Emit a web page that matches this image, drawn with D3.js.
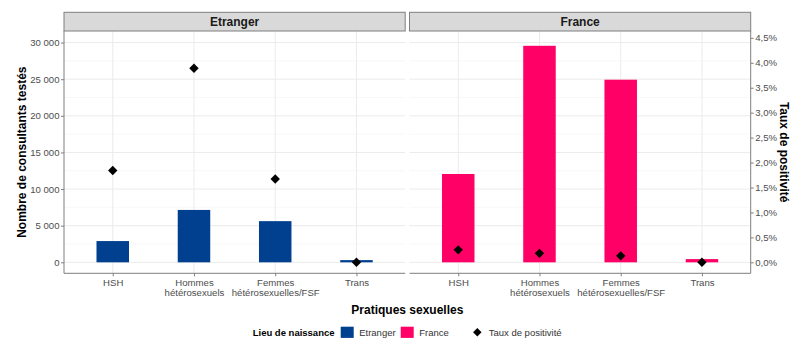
<!DOCTYPE html>
<html><head><meta charset="utf-8">
<script src="https://cdn.jsdelivr.net/npm/d3@7/dist/d3.min.js"></script>
<style>body{margin:0;background:#fff}svg{display:block;font-family:"Liberation Sans",Arial,sans-serif}</style>
</head><body><svg id="c" width="802" height="342"></svg>
<script>
const categories = ["HSH", "Hommes\nhétérosexuels", "Femmes\nhétérosexuelles/FSF", "Trans"];
const panels = ["Etranger", "France"];
const countsEtranger = [2900, 7150, 5620, 300];
const countsFrance = [12060, 29560, 24930, 440];
const rateEtranger = [1.84, 3.89, 1.67, 0.0];
const rateFrance = [0.25, 0.18, 0.13, 0.0];
const countTicks = [0, 5000, 10000, 15000, 20000, 25000, 30000];
const rateTicks = [0, 0.5, 1, 1.5, 2, 2.5, 3, 3.5, 4, 4.5];
const countLimits = [-1500, 31580];
const rateFactor = 6810; // count units per 1 %
const colors = {Etranger: "#013f8f", France: "#ff0066"};

(function () {
const svg = d3.select("#c");
const pTop = 31, pBottom = 273.3, pLeft = 64, pRight = 750.7, gap = 4.3;
const pw = (pRight - pLeft - gap) / 2;

const y = d3.scaleLinear().domain(countLimits).range([pBottom, pTop]);
const yRate = d3.scaleLinear().domain(countLimits.map(v => v / rateFactor)).range([pBottom, pTop]);
const fmtCount = v => d3.format(",")(v).replace(/,/g, " ");
const fmtRate = v => d3.format(".1f")(v).replace(".", ",") + "%";

const data = {Etranger: {c: countsEtranger, r: rateEtranger}, France: {c: countsFrance, r: rateFrance}};
const gridMinor = d3.range(countTicks[0] - 2500, countTicks[countTicks.length - 1] + 5000, 2500)
  .filter(v => v % 5000 !== 0 && v > countLimits[0] && v < countLimits[1]);

panels.forEach((p, i) => {
  const x0 = pLeft + i * (pw + gap);
  const x = d3.scalePoint().domain(categories).range([x0, x0 + pw]).padding(0.6);
  const bw = x.step() * 0.4;
  const g = svg.append("g");
  g.selectAll(".gm").data(gridMinor).join("line")
    .attr("x1", x0).attr("x2", x0 + pw).attr("y1", d => y(d)).attr("y2", d => y(d))
    .attr("stroke", "#f3f3f3").attr("stroke-width", 0.6);
  g.selectAll(".gM").data(countTicks).join("line")
    .attr("x1", x0).attr("x2", x0 + pw).attr("y1", d => y(d)).attr("y2", d => y(d))
    .attr("stroke", "#ebebeb").attr("stroke-width", 1);
  g.selectAll(".gv").data(categories).join("line")
    .attr("x1", d => x(d)).attr("x2", d => x(d)).attr("y1", pTop).attr("y2", pBottom)
    .attr("stroke", "#ebebeb").attr("stroke-width", 1);
  g.append("rect").attr("x", x0).attr("y", 12.3).attr("width", pw).attr("height", pTop - 12.3)
    .attr("fill", "#d9d9d9").attr("stroke", "#7f7f7f").attr("stroke-width", 1);
  g.append("text").attr("x", x0 + pw / 2).attr("y", (12.3 + pTop) / 2).attr("dy", "0.35em")
    .attr("text-anchor", "middle").attr("font-weight", "bold").attr("font-size", 12).attr("fill", "#1a1a1a").text(p);
  g.selectAll(".bar").data(categories).join("rect")
    .attr("x", d => x(d) - bw / 2).attr("width", bw)
    .attr("y", (d, j) => y(data[p].c[j])).attr("height", (d, j) => y(0) - y(data[p].c[j]))
    .attr("fill", colors[p]);
  g.selectAll(".pt").data(categories).join("path")
    .attr("transform", (d, j) => `translate(${x(d)},${yRate(data[p].r[j])}) rotate(45)`)
    .attr("d", d3.symbol(d3.symbolSquare, 44)).attr("fill", "#000");
  const ax = g.append("g").attr("transform", `translate(0,${pBottom})`)
    .call(d3.axisBottom(x).tickSize(3).tickSizeOuter(0).tickFormat(""));
  ax.select(".domain").attr("stroke", "#7f7f7f").attr("d", `M${x0},0H${x0 + pw}`);
  ax.selectAll(".tick line").attr("stroke", "#7f7f7f");
  ax.selectAll(".tick").each(function (d) {
    const t = d3.select(this).append("text").attr("fill", "#4d4d4d").attr("font-size", 9.6)
      .attr("text-anchor", "middle");
    d.split("\n").forEach((s, k) => t.append("tspan").attr("x", 0).attr("y", 12.5 + k * 10.5).text(s));
  });
  if (i === 0) {
    const ay = g.append("g").attr("transform", `translate(${x0},0)`)
      .call(d3.axisLeft(y).tickValues(countTicks).tickSize(3).tickFormat(fmtCount));
    ay.select(".domain").attr("stroke", "#7f7f7f").attr("d", `M0,${pTop}V${pBottom}`);
    ay.selectAll(".tick line").attr("stroke", "#7f7f7f");
    ay.selectAll("text").attr("fill", "#4d4d4d").attr("font-size", 9.6).attr("font-family", "Liberation Sans, Arial").attr("x", -4.5);
  } else {
    const ay = g.append("g").attr("transform", `translate(${x0 + pw},0)`)
      .call(d3.axisRight(yRate).tickValues(rateTicks).tickSize(3).tickFormat(fmtRate));
    ay.select(".domain").attr("stroke", "#7f7f7f").attr("d", `M0,${pTop}V${pBottom}`);
    ay.selectAll(".tick line").attr("stroke", "#7f7f7f");
    ay.selectAll("text").attr("fill", "#4d4d4d").attr("font-size", 9.6).attr("font-family", "Liberation Sans, Arial").attr("x", 4.5);
  }
});

svg.append("text").attr("transform", `translate(21.5,${(pTop + pBottom) / 2}) rotate(-90)`)
  .attr("text-anchor", "middle").attr("dy", "0.35em").attr("font-weight", "bold").attr("font-size", 12)
  .attr("fill", "#000").text("Nombre de consultants testés");
svg.append("text").attr("transform", `translate(784.5,${(pTop + pBottom) / 2}) rotate(90)`)
  .attr("text-anchor", "middle").attr("dy", "0.35em").attr("font-weight", "bold").attr("font-size", 12)
  .attr("fill", "#000").text("Taux de positivité");
svg.append("text").attr("x", (pLeft + pRight) / 2).attr("y", 313.5)
  .attr("text-anchor", "middle").attr("font-weight", "bold").attr("font-size", 12).text("Pratiques sexuelles");

const ly = 332.3;
const lg = svg.append("g").attr("font-size", 9.5);
lg.append("text").attr("x", 252.7).attr("y", ly).attr("dy", "0.35em").attr("font-weight", "bold").text("Lieu de naissance");
const items = [{k: "Etranger", x: 340.7}, {k: "France", x: 400.7}];
items.forEach(it => {
  lg.append("rect").attr("x", it.x).attr("y", ly - 5.6).attr("width", 13).attr("height", 11.2).attr("fill", colors[it.k]);
  lg.append("text").attr("x", it.x + 18.5).attr("y", ly).attr("dy", "0.35em").attr("fill", "#333").text(it.k);
});
lg.append("path").attr("transform", `translate(477.3,${ly}) rotate(45)`).attr("d", d3.symbol(d3.symbolSquare, 36)).attr("fill", "#000");
lg.append("text").attr("x", 488.7).attr("y", ly).attr("dy", "0.35em").attr("fill", "#333").text("Taux de positivité");
})();
</script></body></html>
